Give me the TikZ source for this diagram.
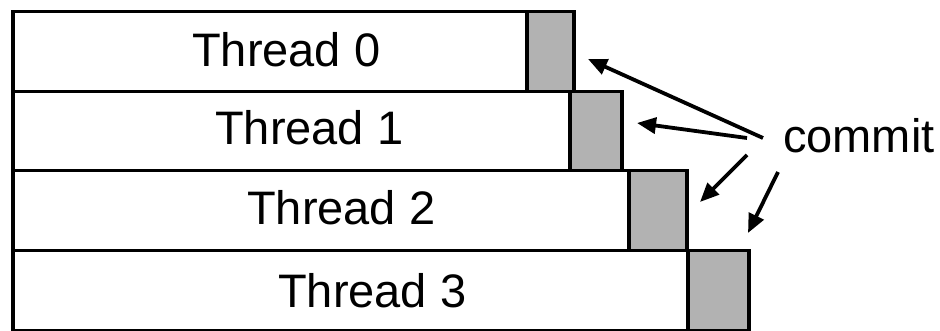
\documentclass[tikz,border=0pt]{standalone}
\usepackage{fontspec}
\setmainfont{Liberation Sans}
\usetikzlibrary{arrows.meta}
\begin{document}
\begin{tikzpicture}[x=1pt,y=-1pt,
  bar/.style={draw=black,line width=3.5pt,fill=white,rectangle,inner sep=0pt,anchor=north west},
  slot/.style={draw=black,line width=3.5pt,fill=black!30,rectangle,inner sep=0pt,anchor=north west},
  lbl/.style={anchor=base west,inner sep=0pt,font=\fontsize{47}{56}\selectfont},
  pointer/.style={line width=3.8pt,-{Triangle[length=19pt,width=16pt]}}]
\useasboundingbox (0,0) rectangle (940,331);
% thread bars (white) with their commit slots (grey)
\node[bar,minimum width=514pt,minimum height=80pt] (b0) at (11,10) {};
\node[slot,minimum width=47pt,minimum height=80pt] (c0) at (525,10) {};
\node[bar,minimum width=557pt,minimum height=79pt] (b1) at (11,90) {};
\node[slot,minimum width=52pt,minimum height=79pt] (c1) at (568,90) {};
\node[bar,minimum width=616pt,minimum height=80pt] (b2) at (11,169) {};
\node[slot,minimum width=58pt,minimum height=80pt] (c2) at (627,169) {};
\node[bar,minimum width=675pt,minimum height=80pt] (b3) at (11,249) {};
\node[slot,minimum width=61pt,minimum height=80pt] (c3) at (686,249) {};
% labels
\node[lbl] (t0) at (192,67) {Thread 0};
\node[lbl] (t1) at (215,145) {Thread 1};
\node[lbl] (t2) at (247,225) {Thread 2};
\node[lbl] (t3) at (278,307) {Thread 3};
\node[lbl] (commit) at (783,153) {commit};
% arrows from the label toward each commit slot
\coordinate (s0) at (763,138);
\coordinate (e0) at (588,59);
\coordinate (s1) at (747,138);
\coordinate (e1) at (637,123);
\coordinate (s2) at (747,155);
\coordinate (e2) at (700,202);
\coordinate (s3) at (778,172);
\coordinate (e3) at (748,233);
\draw[pointer] (s0) -- (e0);
\draw[pointer] (s1) -- (e1);
\draw[pointer] (s2) -- (e2);
\draw[pointer] (s3) -- (e3);
\end{tikzpicture}
\end{document}
